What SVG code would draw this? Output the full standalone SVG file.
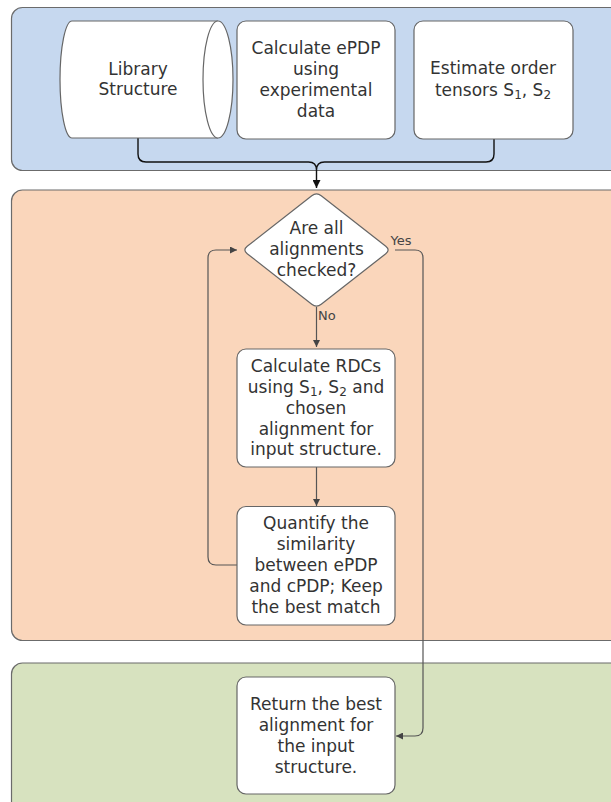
<svg xmlns="http://www.w3.org/2000/svg" width="611" height="802" viewBox="0 0 611 802">
<style>
.lane{stroke:#6b6b6b;stroke-width:1.2}
.box{fill:#ffffff;stroke:#666666;stroke-width:1.2}
.t{font-family:"DejaVu Sans",Verdana,sans-serif;font-size:17px;fill:#333333;text-anchor:middle}
.lbl{font-family:"DejaVu Sans",Verdana,sans-serif;font-size:13px;fill:#444444}
.sub{font-size:12px}
.c{fill:none;stroke:#555555;stroke-width:1.2}
.ck{fill:none;stroke:#111111;stroke-width:1.4}
</style>
<defs>
<marker id="ah" viewBox="0 0 10 10" refX="10" refY="5" markerWidth="7" markerHeight="7" markerUnits="userSpaceOnUse" orient="auto">
<path d="M0,0 L10,5 L0,10 Z" fill="#444444"/>
</marker>
<marker id="ahk" viewBox="0 0 10 10" refX="10" refY="5" markerWidth="8" markerHeight="8" markerUnits="userSpaceOnUse" orient="auto">
<path d="M0,0 L10,5 L0,10 Z" fill="#111111"/>
</marker>
</defs>

<g id="lanes">
<rect class="lane" x="11.5" y="7.5" width="640" height="163" rx="11" fill="#c6d8ef"/>
<rect class="lane" x="11.5" y="190" width="640" height="450.5" rx="11" fill="#fad6bb"/>
<rect class="lane" x="11.5" y="663" width="640" height="170" rx="11" fill="#d7e2bf"/>
</g>

<g id="connectors">
<path class="ck" d="M138,138 V154 Q138,162 146,162 H308.5 Q316.5,162 316.5,170 M494,139 V154 Q494,162 486,162 H324.5 Q316.5,162 316.5,170 V188" marker-end="url(#ahk)"/>
<path class="c" d="M316.5,307 V347" marker-end="url(#ah)"/>
<path class="c" d="M316.5,467 V506" marker-end="url(#ah)"/>
<path class="c" d="M237,565 H216 Q208,565 208,557 V258 Q208,250 216,250 H237" marker-end="url(#ah)"/>
<path class="c" d="M395,250 H415 Q423,250 423,258 V728 Q423,736 415,736 H396" marker-end="url(#ah)"/>
<text class="lbl" x="390.5" y="244.5">Yes</text>
<text class="lbl" x="318" y="319.5">No</text>
</g>

<g id="library-structure">
<path class="box" d="M72,21 H218 A15,58.5 0 0 1 218,138 H72 A12,58.5 0 0 1 72,21 Z"/>
<path class="box" fill="none" d="M218,21 A15,58.5 0 0 0 218,138"/>
<text class="t" x="138" y="74.5">Library</text>
<text class="t" x="138" y="95">Structure</text>
</g>

<g id="calculate-epdp">
<rect class="box" x="237" y="21" width="158" height="118" rx="9"/>
<text class="t" x="316" y="53.5">Calculate ePDP</text>
<text class="t" x="316" y="74.5">using</text>
<text class="t" x="316" y="95.5">experimental</text>
<text class="t" x="316" y="116.5">data</text>
</g>

<g id="estimate-tensors">
<rect class="box" x="414" y="21" width="159" height="118" rx="9"/>
<text class="t" x="493" y="74">Estimate order</text>
<text class="t" x="493" y="95.5">tensors S<tspan class="sub" dy="3">1</tspan><tspan dy="-3">, S</tspan><tspan class="sub" dy="3">2</tspan></text>
</g>

<g id="decision">
<path class="box" d="M311.78,195.7 Q316.5,192 321.22,195.7 L385.78,246.3 Q390.5,250 385.78,253.7 L321.22,304.3 Q316.5,308 311.78,304.3 L247.22,253.7 Q242.5,250 247.22,246.3 Z"/>
<text class="t" x="316.5" y="234">Are all</text>
<text class="t" x="316.5" y="255">alignments</text>
<text class="t" x="316.5" y="275.5">checked?</text>
</g>

<g id="calculate-rdcs">
<rect class="box" x="237" y="349" width="158" height="118" rx="9"/>
<text class="t" x="316" y="371.5">Calculate RDCs</text>
<text class="t" x="316" y="392.5">using S<tspan class="sub" dy="3">1</tspan><tspan dy="-3">, S</tspan><tspan class="sub" dy="3">2</tspan><tspan dy="-3"> and</tspan></text>
<text class="t" x="316" y="413.5">chosen</text>
<text class="t" x="316" y="434.5">alignment for</text>
<text class="t" x="316" y="455">input structure.</text>
</g>

<g id="quantify">
<rect class="box" x="237" y="506.5" width="158" height="118.5" rx="9"/>
<text class="t" x="316" y="529">Quantify the</text>
<text class="t" x="316" y="550">similarity</text>
<text class="t" x="316" y="571">between ePDP</text>
<text class="t" x="316" y="592">and cPDP; Keep</text>
<text class="t" x="316" y="613">the best match</text>
</g>

<g id="return-best">
<rect class="box" x="237" y="677" width="158" height="117" rx="9"/>
<text class="t" x="316" y="710">Return the best</text>
<text class="t" x="316" y="731">alignment for</text>
<text class="t" x="316" y="752">the input</text>
<text class="t" x="316" y="773">structure.</text>
</g>
</svg>
